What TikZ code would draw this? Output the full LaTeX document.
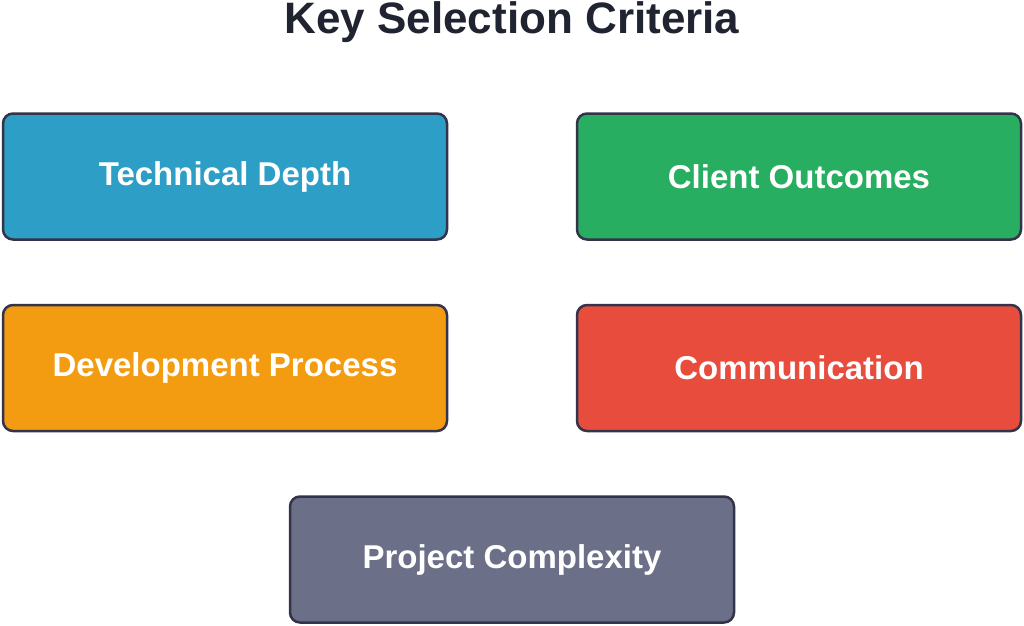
\documentclass[tikz,border=0pt]{standalone}
\usepackage{fontspec}
\setmainfont{Liberation Sans}
\begin{document}
\begin{tikzpicture}[x=1pt,y=-1pt,
  box/.style={draw=black!85!blue!60!gray, line width=2.5pt, rounded corners=10pt, minimum width=444pt, minimum height=126pt, inner sep=0pt, text=white, font=\fontsize{33}{36}\selectfont\bfseries}]
\useasboundingbox[fill=white] (0,0) rectangle (1024,625);
\definecolor{tblue}{HTML}{2D9FC7}
\definecolor{tgreen}{HTML}{27AE60}
\definecolor{torange}{HTML}{F39C12}
\definecolor{tred}{HTML}{E74C3C}
\definecolor{tslate}{HTML}{6B6F88}
\definecolor{ttitle}{HTML}{1F2430}
\node[text=ttitle, font=\fontsize{44}{48}\selectfont\bfseries] (title) at (512,22) {Key Selection Criteria};
\node[box, fill=tblue] (td) at (225,176.5) {Technical Depth};
\node[box, fill=tgreen] (co) at (799,176.5) {Client Outcomes};
\node[box, fill=torange] (dp) at (225,368) {Development Process};
\node[box, fill=tred] (cm) at (799,368) {Communication};
\node[box, fill=tslate] (pc) at (512,559.5) {Project Complexity};
\end{tikzpicture}
\end{document}
